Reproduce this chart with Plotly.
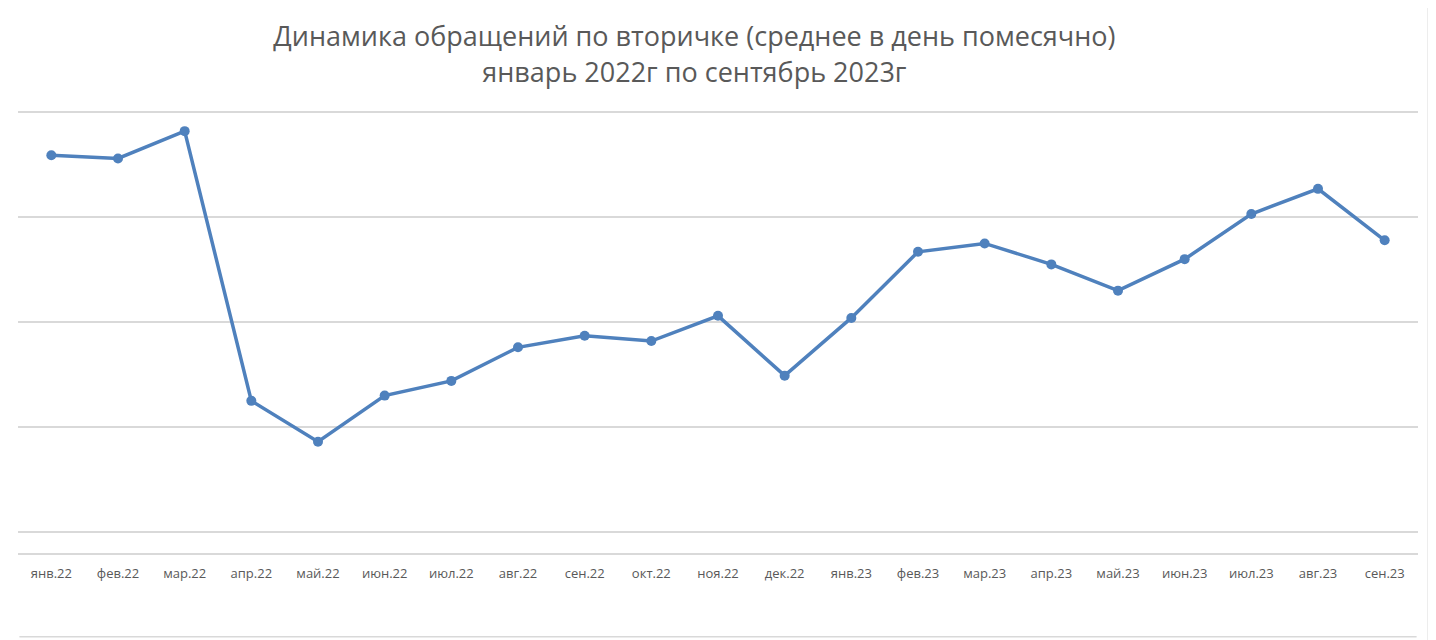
import plotly.graph_objects as go

# месяцы (подписи оси X)
months = ["янв.22", "фев.22", "мар.22", "апр.22", "май.22", "июн.22", "июл.22",
          "авг.22", "сен.22", "окт.22", "ноя.22", "дек.22", "янв.23", "фев.23",
          "мар.23", "апр.23", "май.23", "июн.23", "июл.23", "авг.23", "сен.23"]

# среднее количество обращений в день (оценка по картинке)
avg_per_day = [45.9, 45.6, 48.2, 22.5, 18.6, 23.0, 24.4,
               27.6, 28.7, 28.2, 30.6, 24.9, 30.4, 36.7,
               37.5, 35.5, 33.0, 36.0, 40.3, 42.7, 37.8]

grid_values = [10, 20, 30, 40, 50]

fig = go.Figure()

fig.add_trace(go.Scatter(
    x=months,
    y=avg_per_day,
    mode="lines+markers",
    line=dict(color="#4f81bd", width=3.5),
    marker=dict(color="#4f81bd", size=10),
    showlegend=False,
    hoverinfo="x+y",
))

# рамка снизу и справа
fig.add_shape(type="line", xref="paper", yref="paper",
              x0=0.001, x1=0.999, y0=-0.188, y1=-0.188,
              line=dict(color="#d9d9d9", width=1.5))
fig.add_shape(type="line", xref="paper", yref="paper",
              x0=1.007, x1=1.007, y0=-0.2, y1=1.26,
              line=dict(color="#e6e6e6", width=1))

# страница имеет отступ 8px, поэтому поля сдвинуты
fig.update_layout(
    width=1436,
    height=640,
    paper_bgcolor="white",
    plot_bgcolor="white",
    margin=dict(l=10, r=26, t=99, b=95),
    font=dict(family="Open Sans", color="#595959"),
    title=dict(
        text="Динамика обращений по вторичке (среднее в день помесячно)<br>январь 2022г по сентябрь 2023г",
        x=0.478, xanchor="center",
        y=0.94, yanchor="top",
        font=dict(size=27, color="#595959"),
    ),
    xaxis=dict(
        range=[-0.5, 20.5],
        showgrid=False,
        showline=True,
        linecolor="#d9d9d9",
        linewidth=1.5,
        ticks="outside",
        ticklen=8,
        tickcolor="rgba(0,0,0,0)",
        tickfont=dict(size=13, color="#595959"),
        fixedrange=True,
    ),
    yaxis=dict(
        range=[8, 50.5],
        tickvals=grid_values,
        showticklabels=False,
        showgrid=True,
        gridcolor="#d9d9d9",
        gridwidth=1.5,
        zeroline=False,
        showline=False,
        fixedrange=True,
    ),
)

fig.write_html("out.html")
